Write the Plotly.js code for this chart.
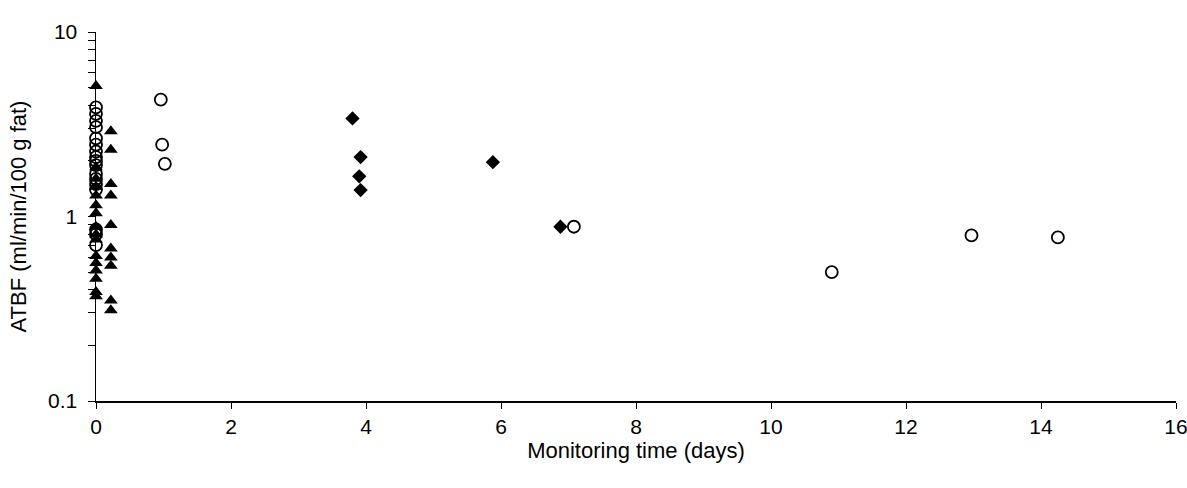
<!DOCTYPE html>
<html>
<head>
<meta charset="utf-8">
<script src="https://cdn.plot.ly/plotly-3.0.1.min.js"></script>
<style>html,body{margin:0;padding:0;background:#fff;}#chart{width:1187px;height:488px;}</style>
</head>
<body>
<div id="chart"></div>
<script>
// Triangles (filled) at time 0 and ~0.2 days
var triAX = [0,0,0,0,0,0,0,0,0,0,0,0,0,0,0,0];
var triAY = [5.1, 1.85, 1.6, 1.45, 1.3, 1.15, 1.04, 0.88, 0.8, 0.75, 0.61, 0.56, 0.51, 0.46, 0.39, 0.37];
var triBX = [0.22,0.22,0.22,0.22,0.22,0.22,0.22,0.22,0.22,0.22];
var triBY = [2.9, 2.3, 1.5, 1.3, 0.9, 0.67, 0.6, 0.54, 0.35, 0.31];

// Diamonds (filled)
var diaX = [3.8, 3.92, 3.9, 3.92, 5.88, 6.88];
var diaY = [3.4, 2.1, 1.65, 1.39, 1.97, 0.88];

// Open circles
var cirAX = [0,0,0,0,0,0,0,0,0,0,0,0,0,0,0,0,0];
var cirAY = [3.9, 3.6, 3.3, 3.05, 2.65, 2.45, 2.25, 2.1, 2.0, 1.9, 1.7, 1.6, 1.5, 1.4, 0.85, 0.8, 0.7];
var cirBX = [0.96, 0.98, 1.02, 7.08, 10.9, 12.97, 14.25];
var cirBY = [4.3, 2.45, 1.93, 0.88, 0.5, 0.79, 0.77];

var yTickVals = [0.1,0.2,0.3,0.4,0.5,0.6,0.7,0.8,0.9,1,2,3,4,5,6,7,8,9,10];
var yTickText = ['0.1','','','','','','','','','1','','','','','','','','','10'];
var xTickVals = [0,2,4,6,8,10,12,14,16];

var traces = [
  {x: triAX.concat(triBX), y: triAY.concat(triBY), type:'scatter', mode:'markers', marker:{symbol:'triangle-up', size:12, color:'#000'}, cliponaxis:false},
  {x: diaX, y: diaY, type:'scatter', mode:'markers', marker:{symbol:'diamond', size:11, color:'#000'}, cliponaxis:false},
  {x: cirAX.concat(cirBX), y: cirAY.concat(cirBY), type:'scatter', mode:'markers', marker:{symbol:'circle-open', size:12, color:'#000', line:{width:1.8, color:'#000'}}, cliponaxis:false}
];

var layout = {
  width:1187, height:488,
  margin:{l:96, r:11, t:32, b:87},
  paper_bgcolor:'#fff', plot_bgcolor:'#fff',
  showlegend:false,
  font:{family:'Liberation Sans, Arial, sans-serif', size:21, color:'#000'},
  xaxis:{
    range:[0,16], tickvals:xTickVals, ticktext:xTickVals.map(String),
    showgrid:false, zeroline:false, showline:true, linecolor:'#000', linewidth:1.5,
    ticks:'outside', ticklen:6, tickwidth:1, tickcolor:'#000',
    tickfont:{family:'Liberation Sans, Arial, sans-serif', size:21}, ticklabeloverflow:'allow',
    title:{text:'Monitoring time (days)', font:{size:22}, standoff:4}
  },
  yaxis:{
    type:'log', range:[-1,1], tickvals:yTickVals, ticktext:yTickText,
    showgrid:false, zeroline:false, showline:true, linecolor:'#000', linewidth:1.5,
    ticks:'outside', ticklen:7, tickwidth:1, tickcolor:'#000',
    tickfont:{family:'Liberation Sans, Arial, sans-serif', size:21}, ticklabelstandoff:6,
    title:{text:'ATBF (ml/min/100 g fat)', font:{size:22}, standoff:15}
  }
};

Plotly.newPlot('chart', traces, layout, {displayModeBar:false, staticPlot:true});
</script>
</body>
</html>
